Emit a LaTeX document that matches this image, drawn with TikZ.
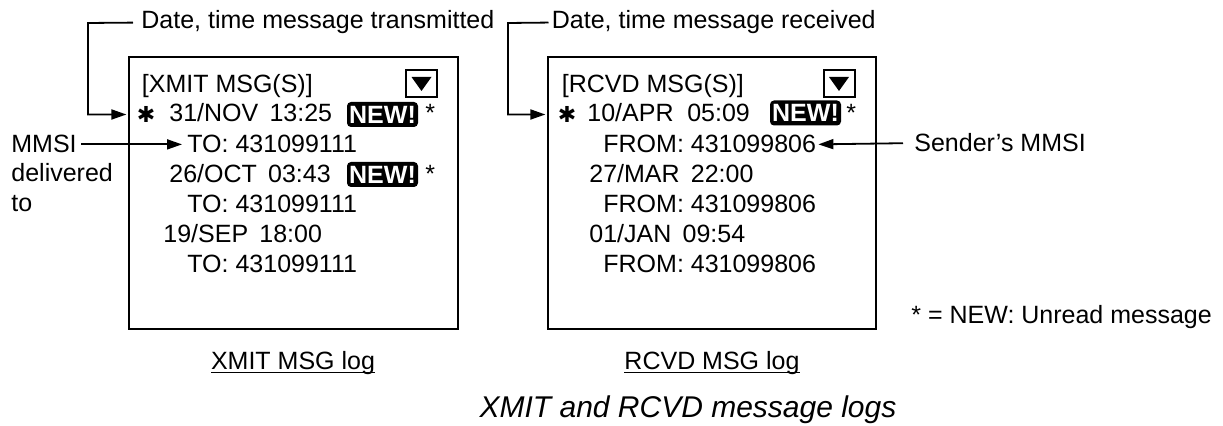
\documentclass[tikz,border=0pt]{standalone}
\usepackage{fontspec}
\setmainfont{Liberation Sans}
\newfontfamily\dejavu{DejaVu Sans}
\usetikzlibrary{arrows.meta,positioning}

\newcommand{\logdate}[2]{#1\hspace{0.45em}#2}
\newcommand{\caplog}[1]{\underline{\raisebox{0pt}[\height][0pt]{#1}}}

\tikzset{
  txt/.style={anchor=base west, inner sep=0pt, font=\fontsize{12.5}{15}\selectfont},
  newtag/.style={fill=black, text=white, rounded corners=2pt, inner sep=0pt,
    minimum width=35.5pt, minimum height=12.5pt,
    font=\fontsize{12.5}{15}\selectfont\bfseries},
  starmark/.style={inner sep=0pt, font=\dejavu\fontsize{11}{11}\selectfont},
  scroll/.style={draw, line width=1pt, inner sep=0pt, minimum width=15.5pt, minimum height=13.5pt},
  screen/.style={line width=1.2pt},
  leader/.style={line width=0.9pt, -{Triangle[length=7.5pt,width=5pt]}},
}

\begin{document}
\begin{tikzpicture}[x=0.5pt,y=-0.5pt]
\useasboundingbox (0,0) rectangle (1223,426);

% screens
\draw[screen] (129,57) rectangle (458,329);
\draw[screen] (548,57) rectangle (876,329);

% XMIT screen
\node[txt] (xhead) at (141.5,93) {[XMIT MSG(S)]};
\node[scroll] (xscroll) at (421.5,83.5) {};
\fill (411.5,77) -- (431.5,77) -- (421.5,91) -- cycle;
\node[starmark] (xstar) at (146,114.5) {✱};
\node[txt] (xr1) at (169,122) {\logdate{31/NOV}{13:25}};
\node[newtag] (xnew1) at (382.5,114.5) {NEW!};
\node[txt] (xast1) at (425,122) {*};
\node[txt] (xto1) at (187,153) {TO: 431099111};
\node[txt] (xr2) at (169,183) {\logdate{26/OCT}{03:43}};
\node[newtag] (xnew2) at (382.5,174.5) {NEW!};
\node[txt] (xast2) at (425,183) {*};
\node[txt] (xto2) at (187,213) {TO: 431099111};
\node[txt] (xr3) at (163,243) {\logdate{19/SEP}{18:00}};
\node[txt] (xto3) at (187,273) {TO: 431099111};

% RCVD screen
\node[txt] (rhead) at (561.5,93) {[RCVD MSG(S)]};
\node[scroll] (rscroll) at (839,83.5) {};
\fill (829,77) -- (849,77) -- (839,91) -- cycle;
\node[starmark] (rstar) at (567,114.5) {✱};
\node[txt] (rr1) at (587,122) {10/APR\hspace{0.55em}05:09};
\node[newtag] (rnew1) at (805.5,113) {NEW!};
\node[txt] (rast1) at (846,122) {*};
\node[txt] (rfrom1) at (603,153) {FROM: 431099806};
\node[txt] (rr2) at (589,183) {\logdate{27/MAR}{22:00}};
\node[txt] (rfrom2) at (603,213) {FROM: 431099806};
\node[txt] (rr3) at (589,243) {\logdate{01/JAN}{09:54}};
\node[txt] (rfrom3) at (603,273) {FROM: 431099806};

% callouts
\node[txt] (xmitlbl) at (141,29) {Date, time message transmitted};
\node[txt] (rcvdlbl) at (551.5,29) {Date, time message received};
\node[txt] (mmsi) at (11,153) {MMSI};
\node[txt, anchor=north west, align=left] (mmsinote) at (11,163) {delivered\\to};
\node[txt] (sender) at (914,152) {Sender's MMSI};
\node[txt] (unread) at (911,324) {* = NEW: Unread message};
\coordinate (xmitbend) at (88,23);
\coordinate (rcvdbend) at (508,23);

\draw[leader, shorten <=4pt, shorten >=5pt] (xmitlbl.west) -- (xmitbend) |- (xstar.west);
\draw[leader, shorten <=1.5pt, shorten >=6pt] (rcvdlbl.west) -- (rcvdbend) |- (rstar.west);
\draw[leader, shorten <=2pt, shorten >=2.5pt] (mmsi.east) -- (xto1.west);
\draw[leader, shorten <=5.5pt, shorten >=1pt] (sender.west) -- (rfrom1.east);

% captions
\node[txt, anchor=base] (xcap) at (293,370) {\caplog{XMIT MSG log}};
\node[txt, anchor=base] (rcap) at (712,370) {\caplog{RCVD MSG log}};
\node[anchor=base, inner sep=0pt, font=\fontsize{15}{18}\selectfont\itshape] (title) at (688,418) {XMIT and RCVD message logs};

\end{tikzpicture}
\end{document}
